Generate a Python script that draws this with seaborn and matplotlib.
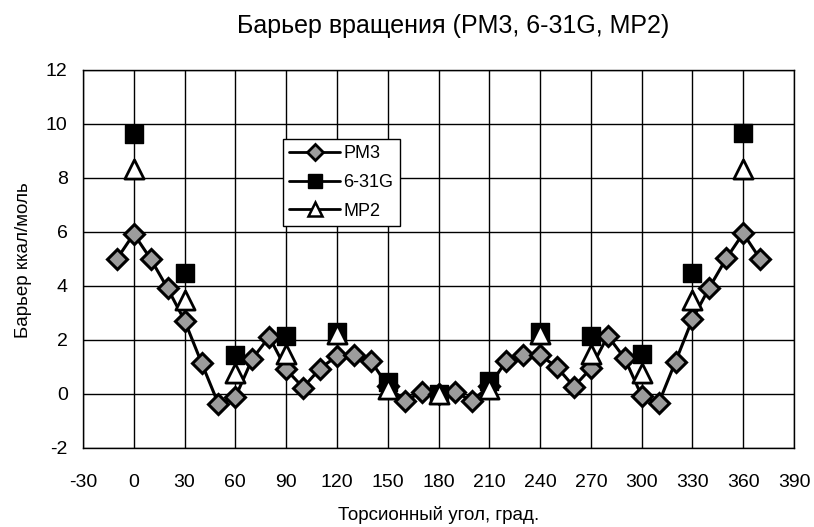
import matplotlib
matplotlib.use("Agg")
import matplotlib.pyplot as plt
from matplotlib.lines import Line2D
import seaborn as sns
import pandas as pd

# Data
pm3_angle = [-10, 0, 10, 20, 30, 40, 50, 60, 70, 80, 90, 100, 110, 120, 130, 140, 150, 160, 170, 180,
             190, 200, 210, 220, 230, 240, 250, 260, 270, 280, 290, 300, 310, 320, 330, 340, 350, 360, 370]
pm3_energy = [5.0, 5.93, 5.0, 3.91, 2.72, 1.16, -0.37, -0.12, 1.30, 2.12, 0.91, 0.24, 0.94, 1.41, 1.43, 1.23, 0.30, -0.25, 0.06, 0.0,
              0.06, -0.25, 0.30, 1.22, 1.44, 1.44, 0.99, 0.27, 0.95, 2.15, 1.32, -0.07, -0.35, 1.20, 2.77, 3.94, 5.02, 5.95, 5.0]
ab_angle = [0, 30, 60, 90, 120, 150, 180, 210, 240, 270, 300, 330, 360]
g631_energy = [9.63, 4.49, 1.44, 2.15, 2.31, 0.46, 0.0, 0.48, 2.31, 2.15, 1.47, 4.49, 9.65]
mp2_energy = [8.35, 3.48, 0.77, 1.5, 2.22, 0.2, 0.0, 0.2, 2.22, 1.5, 0.77, 3.5, 8.35]
x_ticks = list(range(-30, 391, 30))
y_ticks = list(range(-2, 13, 2))
series_names = ["PM3", "6-31G", "MP2"]

title = "Барьер вращения (PM3, 6-31G, MP2)"
xlabel = "Торсионный угол, град."
ylabel = "Барьер ккал/моль"

sns.set_style("white")
plt.rcParams['font.family'] = ['Liberation Sans', 'DejaVu Sans']
plt.rcParams['axes.unicode_minus'] = False
for k in ['text.color', 'axes.labelcolor', 'xtick.color', 'ytick.color']:
    plt.rcParams[k] = 'black'

W, H = 814, 527
fig = plt.figure(figsize=(W / 100, H / 100), dpi=100)
L, R, T, B = 83, 794, 70, 448
ax = fig.add_axes([L / W, 1 - B / H, (R - L) / W, (B - T) / H])

df_pm3 = pd.DataFrame({"angle": pm3_angle, "energy": pm3_energy})
df_ab = pd.DataFrame({"angle": ab_angle, "g631": g631_energy, "mp2": mp2_energy})

sns.lineplot(data=df_pm3, x="angle", y="energy", ax=ax, color="black", linewidth=2.2,
             marker="D", markersize=10, markerfacecolor="#9c9c9c", markeredgecolor="black",
             markeredgewidth=2.2, zorder=3, legend=False)
sns.scatterplot(data=df_ab, x="angle", y="g631", ax=ax, marker="s", s=180, color="black",
                edgecolor="black", linewidth=1, zorder=4, legend=False)
sns.scatterplot(data=df_ab, x="angle", y="mp2", ax=ax, marker="^", s=190, facecolor="white",
                edgecolor="black", linewidth=2.0, zorder=5, legend=False)

ax.set_xlim(-30, 390)
ax.set_ylim(-2, 12)
ax.set_xticks(x_ticks)
ax.set_yticks(y_ticks)
ax.tick_params(axis="both", length=0, labelsize=14)
ax.tick_params(axis="x", pad=19)
ax.tick_params(axis="y", pad=11)
ax.grid(True, color="black", linewidth=1.0)
ax.set_axisbelow(True)
for sp in ax.spines.values():
    sp.set_color("black")
    sp.set_linewidth(1.0)
ax.set_xlabel("")
ax.set_ylabel("")

fig.text(453 / W, 1 - 33 / H, title, ha="center", va="baseline", fontsize=18)
fig.text(439 / W, 1 - 520 / H, xlabel, ha="center", va="baseline", fontsize=13.5)
fig.text(24 / W, 1 - 260 / H, ylabel, ha="center", va="center", rotation=90, fontsize=13.5)

handles = [
    Line2D([], [], color="black", linewidth=2, marker="D", markersize=8,
           markerfacecolor="#9c9c9c", markeredgecolor="black", markeredgewidth=2),
    Line2D([], [], color="black", linewidth=2, marker="s", markersize=10,
           markerfacecolor="black", markeredgecolor="black"),
    Line2D([], [], color="black", linewidth=2, marker="^", markersize=10,
           markerfacecolor="white", markeredgecolor="black", markeredgewidth=1.8),
]
leg = ax.legend(handles, series_names, loc="upper left",
                bbox_to_anchor=((283 - L) / (R - L), 1 - (139 - T) / (B - T)),
                frameon=True, fancybox=False, edgecolor="black", framealpha=1,
                fontsize=13, handlelength=2.8, borderpad=0.35, labelspacing=0.65,
                handletextpad=0.2, borderaxespad=0)
leg.get_frame().set_linewidth(1.0)

fig.savefig("out.png", dpi=100)
